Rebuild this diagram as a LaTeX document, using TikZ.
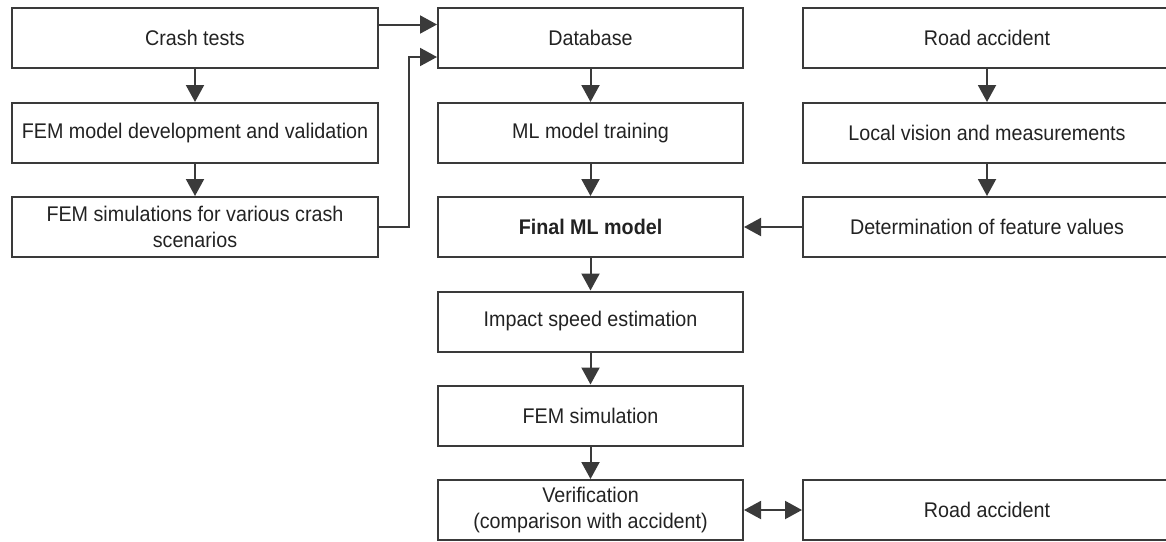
\documentclass[tikz,border=0pt]{standalone}
\usepackage{fontspec}
\setmainfont[FakeStretch=0.93]{Liberation Sans}
\usetikzlibrary{arrows.meta}
\definecolor{linegray}{HTML}{3A3A3A}
\definecolor{textgray}{HTML}{222222}
\begin{document}
\begin{tikzpicture}[x=0.5pt, y=-0.5pt,
  stage/.style={draw=linegray, line width=1pt, rectangle, align=center,
    text=textgray, font=\fontsize{10.6}{13}\selectfont, inner sep=0pt,
    minimum height=30pt},
  col1/.style={stage, minimum width=183pt},
  col2/.style={stage, minimum width=152.5pt},
  col3/.style={stage, minimum width=184pt},
  arr/.style={draw=linegray, line width=1pt, -{Triangle[length=8.5pt,width=9pt]}},
  arrboth/.style={draw=linegray, line width=1pt, {Triangle[length=8.5pt,width=9pt]}-{Triangle[length=8.5pt,width=9pt]}}]
\useasboundingbox (0,0) rectangle (1166,541);

% Simulation branch
\node[col1] (crash) at (195,37.5) {Crash tests};
\node[col1] (femdev) at (195,133) {FEM model development and validation};
\node[col1] (femsim) at (195,227) {FEM simulations for various crash\\scenarios};

% Model branch
\node[col2] (database) at (590.5,37.5) {Database};
\node[col2] (training) at (590.5,133) {ML model training};
\node[col2] (final) at (590.5,227) {\bfseries Final ML model};
\node[col2] (impact) at (590.5,321.5) {Impact speed estimation};
\node[col2] (femsimu) at (590.5,415.5) {FEM simulation};
\node[col2] (verif) at (590.5,510) {Verification\\(comparison with accident)};

% Accident branch
\node[col3] (road) at (987,37.5) {Road accident};
\node[col3] (vision) at (987,133) {Local vision and measurements};
\node[col3] (features) at (987,227) {Determination of feature values};
\node[col3] (road2) at (987,510) {Road accident};

% Arrows
\draw[arr] (crash) -- (femdev);
\draw[arr] (femdev) -- (femsim);
\draw[arr] ([yshift=6.5pt]crash.east) -- ([yshift=6.5pt]database.west);
\draw[arr] (femsim.east) -- ++(15pt,0) |- ([yshift=-9.75pt]database.west);
\draw[arr] (database) -- (training);
\draw[arr] (training) -- (final);
\draw[arr] (final) -- (impact);
\draw[arr] (impact) -- (femsimu);
\draw[arr] (femsimu) -- (verif);
\draw[arr] (road) -- (vision);
\draw[arr] (vision) -- (features);
\draw[arr] (features) -- (final);
\draw[arrboth] (verif) -- (road2);
\end{tikzpicture}
\end{document}
